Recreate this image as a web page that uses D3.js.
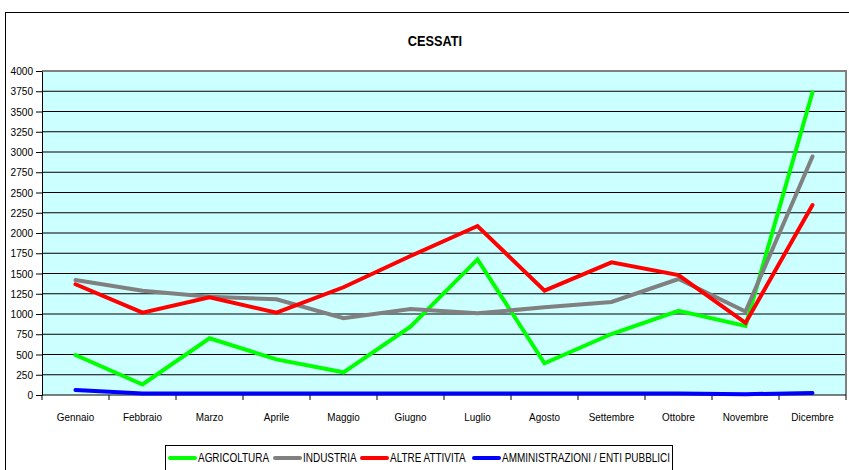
<!DOCTYPE html>
<html lang="it">
<head>
  <meta charset="UTF-8">
  <title>CESSATI</title>
  <script src="https://d3js.org/d3.v7.min.js"></script>
  <style>
    body {
      margin: 0;
      background: #fff;
      font-family: "Liberation Sans", Arial, sans-serif;
    }
    svg text {
      fill: #000;
    }
  </style>
</head>
<body>
  <div id="chart"></div>

  <script>
    // months on the x axis
    const months = ['Gennaio', 'Febbraio', 'Marzo', 'Aprile', 'Maggio', 'Giugno',
      'Luglio', 'Agosto', 'Settembre', 'Ottobre', 'Novembre', 'Dicembre'];

    // series values
    const agricoltura = [494, 130, 700, 440, 280, 843, 1675, 391, 753, 1040, 852, 3737];
    const industria = [1420, 1288, 1214, 1181, 947, 1062, 1008, 1082, 1148, 1432, 1030, 2945];
    const altreAttivita = [1367, 1016, 1206, 1016, 1330, 1716, 2086, 1288, 1638, 1480, 890, 2345];
    const amministrazioni = [62, 20, 20, 20, 20, 20, 20, 20, 20, 20, 10, 25];

    const yTicks = d3.range(0, 4001, 250);

    const series = [
      { name: 'AGRICOLTURA', values: agricoltura, color: '#00ff00' },
      { name: 'INDUSTRIA', values: industria, color: '#808080' },
      { name: 'ALTRE ATTIVITA', values: altreAttivita, color: '#ff0000' },
      { name: 'AMMINISTRAZIONI / ENTI PUBBLICI', values: amministrazioni, color: '#0000ff' }
    ];

    const W = 849, H = 470;
    const plot = { left: 42, top: 71, right: 846, bottom: 395 };

    const svg = d3.select('#chart').append('svg')
      .attr('width', W)
      .attr('height', H);

    // outer chart frame
    svg.append('rect')
      .attr('x', 5.5).attr('y', 12.5)
      .attr('width', 900).attr('height', 500)
      .attr('fill', '#fff')
      .attr('stroke', '#000');

    // title
    svg.append('text')
      .attr('x', 435).attr('y', 46)
      .attr('text-anchor', 'middle')
      .style('font-size', '15px')
      .style('font-weight', 'bold')
      .attr('transform', 'translate(435,0) scale(0.85,1) translate(-435,0)')
      .text('CESSATI');

    const x = d3.scaleBand()
      .domain(months)
      .range([plot.left, plot.right]);

    const y = d3.scaleLinear()
      .domain([0, 4000])
      .range([plot.bottom, plot.top]);

    // plot background
    svg.append('rect')
      .attr('x', plot.left).attr('y', plot.top)
      .attr('width', plot.right - plot.left)
      .attr('height', plot.bottom - plot.top)
      .attr('fill', '#ccffff');

    // gridlines
    svg.append('g')
      .selectAll('line')
      .data(yTicks.filter(d => d > 0 && d < 4000))
      .enter().append('line')
      .attr('x1', plot.left).attr('x2', plot.right)
      .attr('y1', d => y(d)).attr('y2', d => y(d))
      .attr('stroke', '#000')
      .attr('stroke-width', 1);

    // top and right border of plot
    svg.append('path')
      .attr('d', `M${plot.left},${plot.top}H${plot.right}V${plot.bottom}`)
      .attr('fill', 'none')
      .attr('stroke', '#808080')
      .attr('stroke-width', 2);

    // y axis
    const yAxis = svg.append('g')
      .attr('transform', `translate(${plot.left},0)`)
      .call(d3.axisLeft(y).tickValues(yTicks).tickFormat(d3.format('d'))
        .tickSize(6).tickPadding(3).tickSizeOuter(0));
    yAxis.select('.domain').attr('stroke', '#000');
    yAxis.selectAll('.tick line').attr('stroke', '#000');
    yAxis.selectAll('.tick text')
      .style('font-size', '11px')
      .style('font-family', '"Liberation Sans", Arial, sans-serif')
      .attr('transform', 'scale(0.92,1)')
      .attr('x', -9 / 0.92);

    // x axis, ticks on category boundaries
    const xAxisG = svg.append('g')
      .attr('transform', `translate(0,${plot.bottom})`);
    xAxisG.append('line')
      .attr('x1', plot.left).attr('x2', plot.right)
      .attr('stroke', '#000');
    xAxisG.selectAll('.xtick')
      .data(months.concat(['end']))
      .enter().append('line')
      .attr('class', 'xtick')
      .attr('x1', (d, i) => i < months.length ? x(d) : plot.right)
      .attr('x2', (d, i) => i < months.length ? x(d) : plot.right)
      .attr('y1', 0).attr('y2', 5)
      .attr('stroke', '#000');
    xAxisG.selectAll('.xlabel')
      .data(months)
      .enter().append('text')
      .attr('class', 'xlabel')
      .attr('text-anchor', 'middle')
      .attr('transform', d => `translate(${x(d) + x.bandwidth() / 2},26) scale(0.9,1)`)
      .style('font-size', '11px')
      .text(d => d);

    // series lines
    const line = d3.line()
      .x((d, i) => x(months[i]) + x.bandwidth() / 2)
      .y(d => y(d));

    svg.append('g')
      .selectAll('path')
      .data(series)
      .enter().append('path')
      .attr('d', d => line(d.values))
      .attr('fill', 'none')
      .attr('stroke', d => d.color)
      .attr('stroke-width', 4)
      .attr('stroke-linejoin', 'miter')
      .attr('stroke-linecap', 'round');

    // legend
    const legend = svg.append('g');
    legend.append('rect')
      .attr('x', 165.5).attr('y', 445.5)
      .attr('width', 507).attr('height', 40)
      .attr('fill', '#fff')
      .attr('stroke', '#000');

    const legendX = [168, 273, 360, 472];
    const items = legend.selectAll('.item')
      .data(series)
      .enter().append('g')
      .attr('class', 'item')
      .attr('transform', (d, i) => `translate(${legendX[i]},458)`);
    items.append('line')
      .attr('x1', 2).attr('x2', 27)
      .attr('stroke', d => d.color)
      .attr('stroke-width', 4)
      .attr('stroke-linecap', 'round');
    items.append('text')
      .attr('x', 30).attr('y', 4)
      .attr('transform', 'translate(30,0) scale(0.83,1) translate(-30,0)')
      .style('font-size', '12px')
      .text(d => d.name);
  </script>
</body>
</html>
